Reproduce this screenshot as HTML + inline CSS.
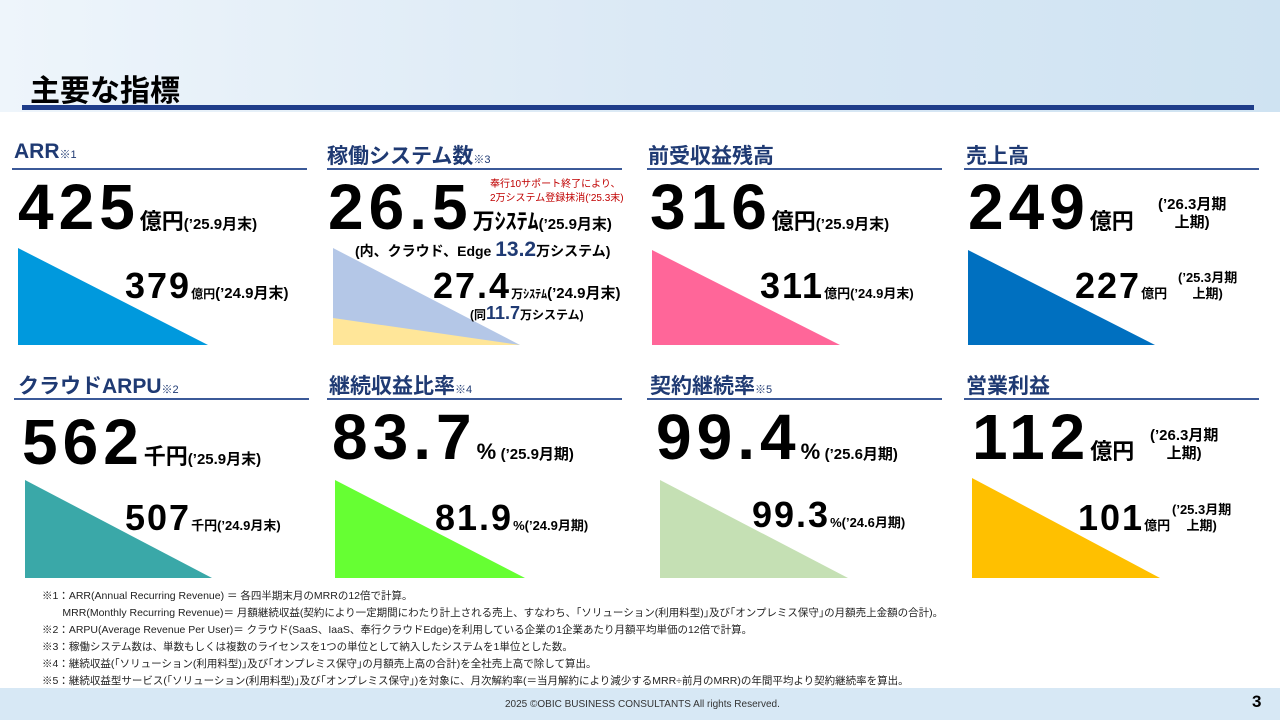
<!DOCTYPE html>
<html><head><meta charset="utf-8"><style>
body{margin:0;width:1280px;height:720px;position:relative;overflow:hidden;background:#fff;font-family:"Liberation Sans","Noto Sans CJK JP",sans-serif;color:#000}
.a{position:absolute;white-space:nowrap}
.t{font-size:21px;font-weight:bold;color:#1f3a73}
.t small{font-size:11px;font-weight:normal}
.ln{position:absolute;height:2px;background:#3b5998}
.big{font-size:64px;font-weight:bold;line-height:1;letter-spacing:5px}
.mid{font-size:36px;font-weight:bold;line-height:1;letter-spacing:2px}
.u{font-size:22px;font-weight:bold}
.s{font-size:15px;font-weight:bold}
.fn{font-size:10.5px;color:#222;line-height:17px}
</style></head><body>
<div class="a" style="left:0;top:0;width:1280px;height:112px;background:linear-gradient(90deg,#eef5fb,#dbe9f5 50%,#cfe3f2)"></div>
<div class="a" style="left:30px;top:66px;font-size:30px;font-weight:bold">主要な指標</div>
<div class="a" style="left:22px;top:105px;width:1232px;height:5px;background:#1f3d8a"></div>
<div class="a" style="left:0;top:688px;width:1280px;height:32px;background:#d7e8f5"></div>
<div class="a" style="left:505px;top:699px;font-size:10px;color:#333">2025 ©OBIC BUSINESS CONSULTANTS All rights Reserved.</div>
<div class="a" style="left:1252px;top:692px;font-size:17px;font-weight:bold">3</div>

<svg class="a" style="left:0;top:0" width="1280" height="720">
<polygon points="18,248 18,345 208,345" fill="#0099dd"/>
<polygon points="333,248 333,345 520,345" fill="#b4c7e7"/>
<polygon points="333,318 333,345 520,345" fill="#ffe699"/>
<polygon points="652,250 652,345 840,345" fill="#ff6699"/>
<polygon points="968,250 968,345 1155,345" fill="#0070c0"/>
<polygon points="25,480 25,578 212,578" fill="#3aa8a8"/>
<polygon points="335,480 335,578 525,578" fill="#66ff33"/>
<polygon points="660,480 660,578 848,578" fill="#c5e0b4"/>
<polygon points="972,478 972,578 1160,578" fill="#ffc000"/>
</svg>

<div class="a t" style="left:14px;top:140px">ARR<small>※1</small></div>
<div class="ln" style="left:12px;top:168px;width:295px"></div>
<div class="a t" style="left:327px;top:140px">稼働システム数<small>※3</small></div>
<div class="ln" style="left:327px;top:168px;width:295px"></div>
<div class="a t" style="left:648px;top:140px">前受収益残高</div>
<div class="ln" style="left:647px;top:168px;width:295px"></div>
<div class="a t" style="left:966px;top:140px">売上高</div>
<div class="ln" style="left:964px;top:168px;width:295px"></div>

<div class="a t" style="left:18px;top:370px">クラウドARPU<small>※2</small></div>
<div class="ln" style="left:14px;top:398px;width:295px"></div>
<div class="a t" style="left:329px;top:370px">継続収益比率<small>※4</small></div>
<div class="ln" style="left:327px;top:398px;width:295px"></div>
<div class="a t" style="left:650px;top:370px">契約継続率<small>※5</small></div>
<div class="ln" style="left:647px;top:398px;width:295px"></div>
<div class="a t" style="left:966px;top:370px">営業利益</div>
<div class="ln" style="left:964px;top:398px;width:295px"></div>

<!-- row1 -->
<div class="a" style="left:18px;top:175px"><span class="big">425</span><span class="u">億円</span><span class="s">(’25.9月末)</span></div>
<div class="a" style="left:125px;top:268px"><span class="mid">379</span><span class="s" style="font-size:12px">億円</span><span class="s">(’24.9月末)</span></div>

<div class="a" style="left:328px;top:175px"><span class="big">26.5</span><span class="u">万ｼｽﾃﾑ</span><span class="s">(’25.9月末)</span></div>
<div class="a" style="left:490px;top:178px;font-size:10px;color:#c00000;line-height:14px">奉行10サポート終了により、<br>2万システム登録抹消(’25.3末)</div>
<div class="a" style="left:355px;top:238px;font-size:14px;font-weight:bold">(内、クラウド、Edge <span style="font-size:21px;color:#1f3a73">13.2</span>万システム)</div>
<div class="a" style="left:433px;top:268px"><span class="mid">27.4</span><span style="font-size:12px;font-weight:bold">万ｼｽﾃﾑ</span><span class="s">(’24.9月末)</span></div>
<div class="a" style="left:470px;top:303px;font-size:12px;font-weight:bold">(同<span style="font-size:18px;color:#1f3a73">11.7</span>万システム)</div>

<div class="a" style="left:650px;top:175px"><span class="big">316</span><span class="u">億円</span><span class="s">(’25.9月末)</span></div>
<div class="a" style="left:760px;top:268px"><span class="mid">311</span><span style="font-size:13px;font-weight:bold">億円(’24.9月末)</span></div>

<div class="a" style="left:968px;top:175px"><span class="big">249</span><span class="u">億円</span></div>
<div class="a" style="left:1158px;top:196px;font-size:15px;font-weight:bold;line-height:18px;text-align:center">(’26.3月期<br>上期)</div>
<div class="a" style="left:1075px;top:268px"><span class="mid">227</span><span style="font-size:13px;font-weight:bold">億円</span></div>
<div class="a" style="left:1178px;top:270px;font-size:13px;font-weight:bold;line-height:16px;text-align:center">(’25.3月期<br>上期)</div>

<!-- row2 -->
<div class="a" style="left:22px;top:410px"><span class="big">562</span><span class="u">千円</span><span class="s">(’25.9月末)</span></div>
<div class="a" style="left:125px;top:500px"><span class="mid">507</span><span style="font-size:13px;font-weight:bold">千円(’24.9月末)</span></div>

<div class="a" style="left:332px;top:405px"><span class="big">83.7</span><span class="u">%</span> <span class="s">(’25.9月期)</span></div>
<div class="a" style="left:435px;top:500px"><span class="mid">81.9</span><span style="font-size:13px;font-weight:bold">%(’24.9月期)</span></div>

<div class="a" style="left:656px;top:405px"><span class="big">99.4</span><span class="u">%</span> <span class="s">(’25.6月期)</span></div>
<div class="a" style="left:752px;top:497px"><span class="mid">99.3</span><span style="font-size:13px;font-weight:bold">%(’24.6月期)</span></div>

<div class="a" style="left:972px;top:405px"><span class="big">112</span><span class="u">億円</span></div>
<div class="a" style="left:1150px;top:427px;font-size:15px;font-weight:bold;line-height:18px;text-align:center">(’26.3月期<br>上期)</div>
<div class="a" style="left:1078px;top:500px"><span class="mid">101</span><span style="font-size:13px;font-weight:bold">億円</span></div>
<div class="a" style="left:1172px;top:502px;font-size:13px;font-weight:bold;line-height:16px;text-align:center">(’25.3月期<br>上期)</div>

<div class="a fn" style="left:42px;top:588px">※1：ARR(Annual Recurring Revenue) ＝ 各四半期末月のMRRの12倍で計算。<br>
&nbsp;&nbsp;&nbsp;&nbsp;&nbsp;&nbsp;&nbsp;MRR(Monthly Recurring Revenue)＝ 月額継続収益(契約により一定期間にわたり計上される売上、すなわち、｢ソリューション(利用料型)｣及び｢オンプレミス保守｣の月額売上金額の合計)。<br>
※2：ARPU(Average Revenue Per User)＝ クラウド(SaaS、IaaS、奉行クラウドEdge)を利用している企業の1企業あたり月額平均単価の12倍で計算。<br>
※3：稼働システム数は、単数もしくは複数のライセンスを1つの単位として納入したシステムを1単位とした数。<br>
※4：継続収益(｢ソリューション(利用料型)｣及び｢オンプレミス保守｣の月額売上高の合計)を全社売上高で除して算出。<br>
※5：継続収益型サービス(｢ソリューション(利用料型)｣及び｢オンプレミス保守｣)を対象に、月次解約率(＝当月解約により減少するMRR÷前月のMRR)の年間平均より契約継続率を算出。</div>
</body></html>
